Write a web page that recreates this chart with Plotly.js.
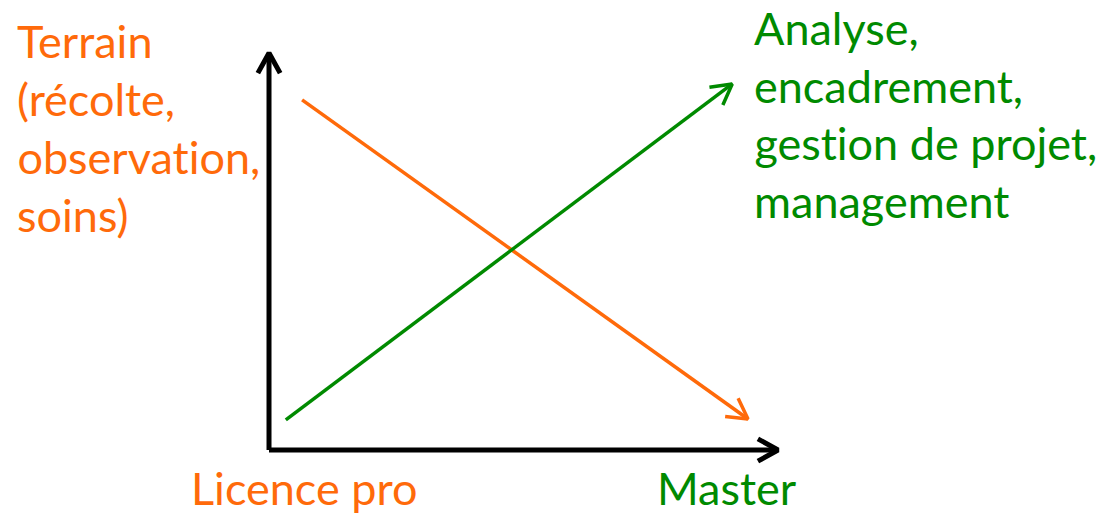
<!DOCTYPE html>
<html>
<head>
<meta charset="utf-8">
<script src="https://cdn.plot.ly/plotly-3.0.1.min.js"></script>
<style>
  body { margin: 0; background: #fff; }
  #chart { width: 1099px; height: 515px; }
  #chart text {
    font-variant-ligatures: none !important;
    font-feature-settings: "liga" 0, "clig" 0, "calt" 0, "dlig" 0 !important;
  }
</style>
</head>
<body>
<div id="chart"></div>
<script>
// schematic: x = level of study (0 = Licence pro, 100 = Master), y = share of the activity
const levels = ["Licence pro", "Master"]
const terrainX = [6.5, 94.1]
const terrainY = [88.2, 7.8]
const analyseX = [3.3, 91.0]
const analyseY = [7.6, 92.2]
const axisX = [0, 0, 100]
const axisY = [100, 0, 0]

const terrainLabel = ["Terrain", "(récolte,", "observation,", "soins)"]
const analyseLabel = ["Analyse,", "encadrement,", "gestion de projet,", "management"]

const orange = "#FF6A0A"
const green = "#008A00"
const font = "Lato, 'Open Sans', sans-serif"

const W = 1099, H = 515
const xRange = [-52.85, 163.06]
const yRange = [-16.37, 113.35]
const pxX = W / (xRange[1] - xRange[0])
const pxY = H / (yRange[1] - yRange[0])

function chevron(x0, y0, x1, y1) {
    // open arrow head at (x1, y1), computed in pixel space
    let dx = (x1 - x0) * pxX
    let dy = (y1 - y0) * pxY
    let len = Math.sqrt(dx * dx + dy * dy)
    let ux = dx / len, uy = dy / len
    let arm = 23, ang = 29 * Math.PI / 180
    let xs = [], ys = []
    for (let s of [1, -1]) {
        let c = Math.cos(ang), sn = Math.sin(ang) * s
        let bx = -(ux * c - uy * sn) * arm
        let by = -(ux * sn + uy * c) * arm
        xs.push(x1 + bx / pxX)
        ys.push(y1 + by / pxY)
    }
    return {x: [xs[0], x1, xs[1]], y: [ys[0], y1, ys[1]]}
}

function lineTrace(x, y, color, width) {
    return {
        type: 'scatter', mode: 'lines', x: x, y: y,
        line: {color: color, width: width},
        hoverinfo: 'skip', showlegend: false
    }
}

let traces = []
traces.push(lineTrace([axisX[0], axisX[1]], [axisY[0], axisY[1]], "#000", 5))
traces.push(lineTrace([axisX[1], axisX[2]], [axisY[1], axisY[2]], "#000", 5))
let vHead = chevron(axisX[1], axisY[1], axisX[0], axisY[0])
traces.push(lineTrace(vHead.x, vHead.y, "#000", 5))
let hHead = chevron(axisX[1], axisY[1], axisX[2], axisY[2])
traces.push(lineTrace(hHead.x, hHead.y, "#000", 5))

traces.push(lineTrace(terrainX, terrainY, orange, 3.5))
let oHead = chevron(terrainX[0], terrainY[0], terrainX[1], terrainY[1])
traces.push(lineTrace(oHead.x, oHead.y, orange, 3.5))

traces.push(lineTrace(analyseX, analyseY, green, 3.5))
let gHead = chevron(analyseX[0], analyseY[0], analyseX[1], analyseY[1])
traces.push(lineTrace(gHead.x, gHead.y, green, 3.5))

// text lines, placed by pixel baseline
let annotations = []
function textLine(text, xPx, basePx, color, anchor) {
    annotations.push({
        text: text, showarrow: false,
        xref: 'paper', yref: 'paper',
        x: xPx / W, y: 1 - basePx / H,
        xanchor: anchor, yanchor: 'bottom', yshift: -12,
        font: {family: font, size: 45, color: color}
    })
}
terrainLabel.forEach((t, i) => textLine(t, 15, 58 + i * 58, orange, 'left'))
analyseLabel.forEach((t, i) => textLine(t, 752, 45 + i * 57.5, green, 'left'))
textLine(levels[0], 304, 505, orange, 'center')
textLine(levels[1], 727, 505, green, 'center')

let layout = {
    width: W, height: H,
    margin: {l: 0, r: 0, t: 0, b: 0},
    paper_bgcolor: '#fff', plot_bgcolor: '#fff',
    xaxis: {range: xRange, visible: false, fixedrange: true},
    yaxis: {range: yRange, visible: false, fixedrange: true},
    annotations: annotations,
    showlegend: false
}

Plotly.newPlot('chart', traces, layout, {staticPlot: true})
</script>
</body>
</html>
